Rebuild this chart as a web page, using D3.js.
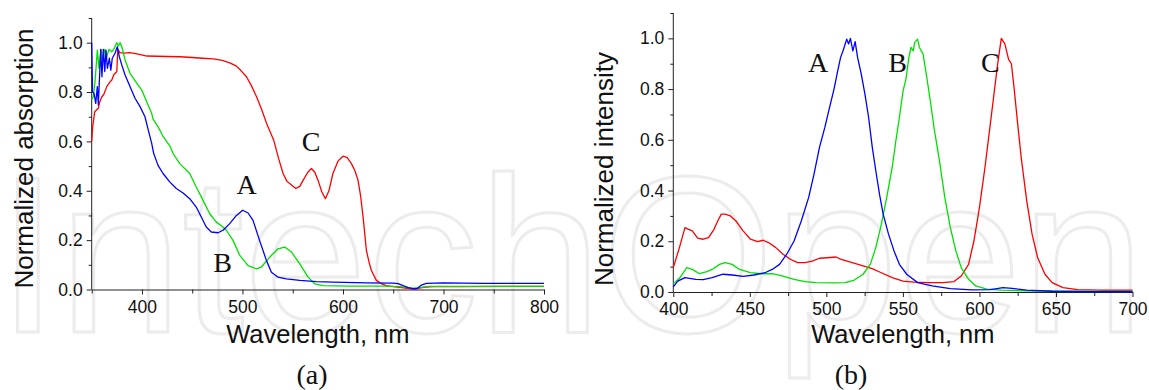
<!DOCTYPE html>
<html>
<head>
<meta charset="utf-8">
<script src="https://cdn.jsdelivr.net/npm/d3@7"></script>
<style>
  html, body { margin: 0; padding: 0; background: #fff; }
  svg { display: block; }
  .tick text { font-family: "Liberation Sans", Arial, sans-serif; }
</style>
</head>
<body>
<svg id="chart" width="1149" height="390"></svg>
<script>
// ---------------- DATA ----------------
// Panel (a): absorption
const absA_nm  = [350,350.8,352.3,354,355.6,356.6,359,360.2,361.6,363,364.2,365.6,367.6,369,370.5,373.2,375.5,377.5,379.9,383.2,388.1,393.1,398.1,403,406.3,409.7,411.7,416,421,427.6,434.2,440.9,447.5,454,459,464,469,475.7,480.7,487.3,494,500.2,505.6,510.5,517,523.8,528.8,535.4,543.7,557,573.5,590,623.3,649.8,655,659.8,665,670,674,678,683,700,740,800];
const absA_val = [1.0,0.80,0.795,0.754,0.822,0.748,0.973,0.862,0.973,0.883,0.970,0.896,0.937,0.889,0.937,0.957,0.984,0.943,0.91,0.869,0.822,0.775,0.741,0.70,0.646,0.592,0.551,0.503,0.47,0.436,0.409,0.391,0.368,0.334,0.294,0.253,0.233,0.230,0.240,0.267,0.300,0.321,0.310,0.280,0.199,0.118,0.070,0.050,0.043,0.037,0.032,0.030,0.027,0.026,0.024,0.016,0.008,0.003,0.004,0.018,0.025,0.027,0.025,0.025];

const absB_nm  = [350,351.6,353.3,355.6,357.3,359.3,361,363,365,367.2,369.9,372.5,374.9,376.5,378.2,379.9,383.2,388.1,394.8,399.8,404.7,409.7,411,416,421,428,431,437.6,447.5,454,460.8,467.4,474,480,484,490.6,497.3,505.6,513.8,518.8,527.1,535.4,542,548.7,557,565.3,571.9,580.2,606.7,639.9,656.5,665,670,676,685,800];
const absB_val = [0.77,0.781,0.842,0.970,0.896,0.973,0.930,0.973,0.943,0.973,0.963,0.977,1.0,0.987,1.0,0.984,0.930,0.876,0.836,0.808,0.761,0.714,0.69,0.66,0.62,0.58,0.551,0.51,0.47,0.415,0.361,0.307,0.273,0.255,0.240,0.199,0.138,0.097,0.084,0.091,0.131,0.165,0.172,0.152,0.104,0.050,0.023,0.016,0.014,0.014,0.012,0.008,0.005,0.008,0.013,0.013];

const absC_nm  = [350,351,353,356.6,358,360,362,365,368,370,372,375,376,378,382,388,395,405,415,425,438,450,460,471,480,488,494,498,504,509,514,519,524,531,536,540.4,544,547,553,557,560.3,565,568.6,572,575.2,579,582.5,586,590,595,600,604,608.4,612,615,617.5,620,623.3,626,628.3,633.2,638,643,650,656.5,662,668,672,676,682,690,720,760,800];
const absC_val = [0.60,0.66,0.72,0.734,0.76,0.78,0.79,0.822,0.84,0.849,0.87,0.883,0.973,0.96,0.958,0.96,0.955,0.946,0.945,0.944,0.943,0.94,0.937,0.934,0.928,0.917,0.905,0.889,0.862,0.825,0.781,0.73,0.673,0.606,0.53,0.47,0.44,0.429,0.409,0.418,0.442,0.475,0.49,0.475,0.442,0.395,0.368,0.40,0.47,0.52,0.54,0.535,0.51,0.48,0.442,0.38,0.294,0.158,0.11,0.077,0.037,0.024,0.016,0.012,0.009,0.006,0.003,0.002,0.006,0.010,0.012,0.012,0.013,0.013];

// Panel (b): emission
const emA_nm  = [400,402.9,407.6,414.7,419.5,425.4,432.5,438.5,445.6,452.7,459.9,464.6,469.4,474.1,478.9,483.6,488.4,491.9,495.5,499,502.1,505,507.4,509.3,510.9,513.3,514.5,515.7,517.3,518.8,520.4,522.8,525.2,527.6,530,532.3,534.7,537.1,540.6,544.2,547.7,552.5,559.6,569.1,581,595.2,607.1,615.4,621.4,630.9,647.5,671.3,700];
const emA_val = [0.020,0.043,0.057,0.050,0.049,0.057,0.070,0.067,0.062,0.067,0.076,0.089,0.109,0.149,0.201,0.280,0.372,0.464,0.570,0.649,0.728,0.800,0.872,0.925,0.951,0.997,0.978,1.0,0.951,0.987,0.925,0.859,0.780,0.688,0.570,0.478,0.386,0.307,0.228,0.162,0.109,0.070,0.037,0.024,0.013,0.008,0.009,0.017,0.014,0.007,0.003,0.001,0.001];

const emB_nm  = [400,404,408.8,412.4,417.1,421.9,425.4,430.2,433.7,438.5,443.2,450.4,457.5,464.6,471.7,478.9,486,493.1,505,512.1,518,524,528.7,532.3,535.9,539.4,543,545.4,547.7,550.1,552,553.9,555.3,556.8,557.7,559.6,560.8,563.2,565.6,567.9,570.3,573.9,577.4,581,584.6,588.1,592.9,597.6,604.8,614.3,635.6,671.3,700];
const emB_val = [0.033,0.054,0.096,0.089,0.072,0.080,0.089,0.109,0.116,0.109,0.089,0.076,0.072,0.072,0.063,0.050,0.041,0.037,0.036,0.037,0.046,0.070,0.109,0.175,0.267,0.372,0.491,0.596,0.688,0.793,0.839,0.925,0.964,0.951,0.984,0.997,0.964,0.938,0.846,0.754,0.649,0.517,0.372,0.254,0.162,0.096,0.050,0.024,0.011,0.007,0.004,0.003,0.003];

const emC_nm  = [400,404,407.6,410,412.4,415.9,419.5,423,426.6,429,431.4,433.7,437.3,440.9,445.6,450.4,455.1,458.7,462.2,467,471.7,476.5,481.2,486,490.7,495.5,502.6,506.2,509.7,516.9,524,529.9,535.9,543,550.1,557.2,566.7,576.2,583.4,588.1,592.9,596.4,600,603.6,607.1,609.5,611.9,614.3,616.6,619,620.9,622.6,625,627.3,630.9,634.4,638,642.8,647.5,654.6,664.1,678.4,700];
const emC_val = [0.096,0.175,0.254,0.247,0.241,0.212,0.208,0.214,0.247,0.280,0.307,0.307,0.300,0.280,0.241,0.208,0.199,0.204,0.195,0.175,0.149,0.129,0.116,0.116,0.122,0.133,0.136,0.138,0.129,0.116,0.103,0.092,0.076,0.057,0.043,0.039,0.037,0.037,0.041,0.063,0.109,0.201,0.333,0.491,0.662,0.780,0.899,1.0,0.978,0.918,0.899,0.807,0.662,0.530,0.359,0.228,0.136,0.070,0.037,0.017,0.009,0.007,0.007];

const yTicksMajor = [0.0, 0.2, 0.4, 0.6, 0.8, 1.0];
const yTicksMinor = [0.1, 0.3, 0.5, 0.7, 0.9, 1.1];
const xTicksA_major = [400, 500, 600, 700, 800];
const xTicksA_minor = [350, 450, 550, 650, 750];
const xTicksB_major = [400, 450, 500, 550, 600, 650, 700];
const xTicksB_minor = [425, 475, 525, 575, 625, 675];
const curveLabelsA = [["A", 494, 0.385], ["B", 471, 0.07], ["C", 559, 0.56]];
const curveLabelsB = [["A", 488, 0.868], ["B", 540.5, 0.868], ["C", 601, 0.868]];

// ---------------- DRAWING ----------------
const svg = d3.select("#chart");
const colA = "#0000ff", colB = "#00e000", colC = "#ff0000";
const fontSans = "'Liberation Sans', Arial, Helvetica, sans-serif";
const fontSerif = "'Liberation Serif', 'Times New Roman', serif";

// faint watermark
svg.append("text")
  .attr("x", -3).attr("y", 332)
  .attr("font-family", fontSans)
  .attr("font-size", 222)
  .attr("fill", "none")
  .attr("stroke", "#ececec")
  .attr("stroke-width", 3)
  .text("IntechOpen");

function panel(cfg) {
  const x = d3.scaleLinear().domain(cfg.xDomain).range(cfg.xRange);
  const y = d3.scaleLinear().domain([0, 1.1]).range(cfg.yRange);
  const g = svg.append("g");

  const fmt = d3.format(".1f");
  // minor ticks
  g.append("g").attr("transform", `translate(${cfg.xRange[0]},0)`)
    .call(d3.axisLeft(y).tickValues(yTicksMinor).tickSize(3).tickSizeOuter(0).tickFormat(""))
    .call(a => a.select(".domain").remove());
  g.append("g").attr("transform", `translate(0,${cfg.yRange[0]})`)
    .call(d3.axisBottom(x).tickValues(cfg.xMinor).tickSize(4).tickSizeOuter(0).tickFormat(""))
    .call(a => a.select(".domain").remove());

  // major y
  const ya = g.append("g").attr("transform", `translate(${cfg.xRange[0]},0)`)
    .call(d3.axisLeft(y).tickValues(yTicksMajor).tickSize(5).tickSizeOuter(0).tickPadding(4).tickFormat(fmt));
  ya.select(".domain").attr("d", `M0,${y(1.1)}V${y(0)}`);
  ya.selectAll("text").attr("font-size", 17.5).attr("font-family", fontSans).attr("fill", "#111");
  // major x
  const xa = g.append("g").attr("transform", `translate(0,${cfg.yRange[0]})`)
    .call(d3.axisBottom(x).tickValues(cfg.xMajor).tickSize(5).tickSizeOuter(0).tickPadding(6).tickFormat(d3.format("d")));
  xa.selectAll("text").attr("font-size", 17.5).attr("font-family", fontSans).attr("fill", "#111");
  g.selectAll(".domain, .tick line").attr("stroke", "#222");

  // lines
  const line = d3.line().x(d => x(d[0])).y(d => y(d[1]));
  cfg.series.forEach(s => {
    const pts = s.nm.map((n, i) => [n, s.val[i]]);
    g.append("path").datum(pts)
      .attr("d", line).attr("fill", "none")
      .attr("stroke", s.color).attr("stroke-width", 1.3)
      .attr("stroke-linejoin", "round");
  });

  // curve labels
  cfg.labels.forEach(l => {
    g.append("text").attr("x", x(l[1])).attr("y", y(l[2]))
      .attr("font-family", fontSerif).attr("font-size", 28)
      .attr("fill", "#111").text(l[0]);
  });

  // axis titles
  const cx = (cfg.xRange[0] + cfg.xRange[1]) / 2;
  g.append("text").attr("x", cx).attr("y", 343)
    .attr("text-anchor", "middle").attr("font-family", fontSans)
    .attr("font-size", 25.5).attr("fill", "#111").text("Wavelength, nm");
  g.append("text")
    .attr("transform", `translate(${cfg.yTitleX},${cfg.yTitleY}) rotate(-90)`)
    .attr("text-anchor", "middle").attr("font-family", fontSans)
    .attr("font-size", 26).attr("fill", "#111").text(cfg.yTitle);
  g.append("text").attr("x", cfg.panelLabelX).attr("y", 384)
    .attr("text-anchor", "middle").attr("font-family", fontSerif)
    .attr("font-size", 28).attr("fill", "#111").text(cfg.panelLabel);
}

panel({
  xDomain: [350, 800], xRange: [91.7, 544], yRange: [289.5, 18],
  xMajor: xTicksA_major, xMinor: xTicksA_minor,
  series: [
    { nm: absC_nm, val: absC_val, color: colC },
    { nm: absB_nm, val: absB_val, color: colB },
    { nm: absA_nm, val: absA_val, color: colA }
  ],
  labels: curveLabelsA,
  yTitle: "Normalized absorption", yTitleX: 32.5, yTitleY: 158.5,
  panelLabel: "(a)", panelLabelX: 312
});

panel({
  xDomain: [400, 700], xRange: [673.3, 1132.5], yRange: [292, 13],
  xMajor: xTicksB_major, xMinor: xTicksB_minor,
  series: [
    { nm: emC_nm, val: emC_val, color: colC },
    { nm: emB_nm, val: emB_val, color: colB },
    { nm: emA_nm, val: emA_val, color: colA }
  ],
  labels: curveLabelsB,
  yTitle: "Normalized intensity", yTitleX: 613, yTitleY: 169,
  panelLabel: "(b)", panelLabelX: 851
});
</script>
</body>
</html>
